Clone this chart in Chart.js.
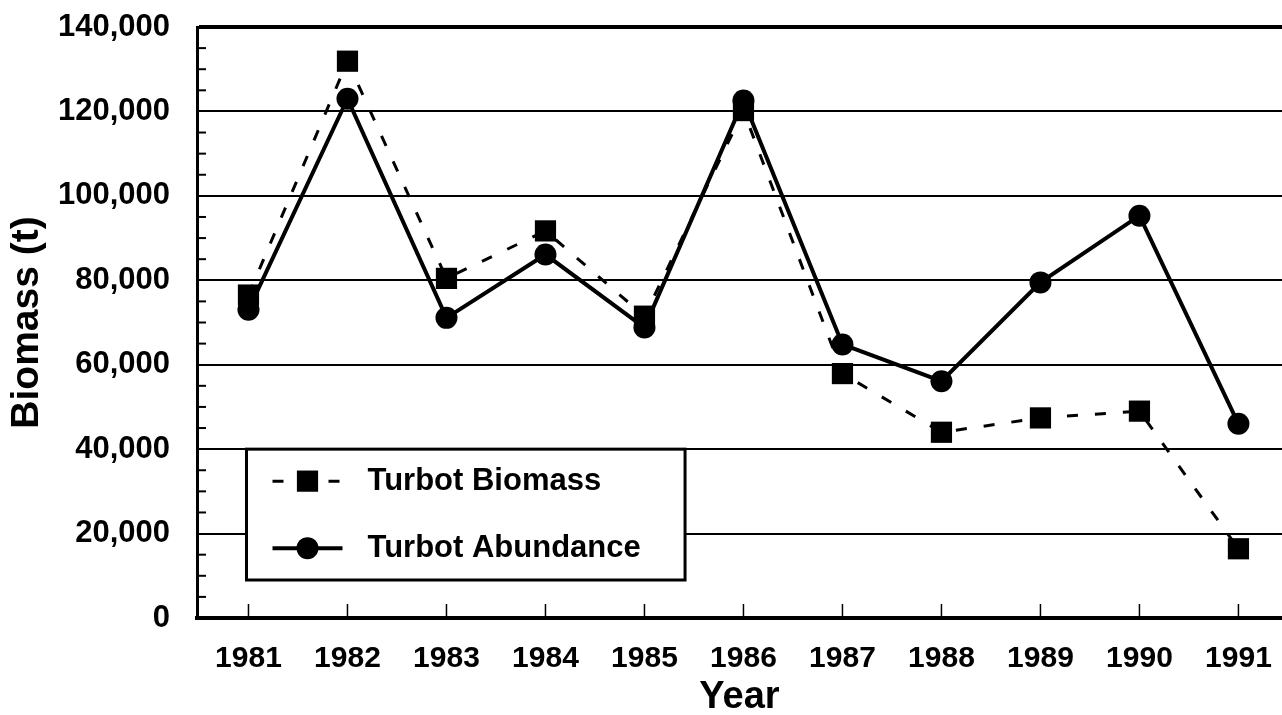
<!DOCTYPE html>
<html>
<head>
<meta charset="utf-8">
<script src="https://cdn.jsdelivr.net/npm/chart.js@4/dist/chart.umd.min.js"></script>
<style>
html,body{margin:0;padding:0;background:#fff;overflow:hidden}
canvas{display:block}
</style>
</head>
<body>
<canvas id="c" width="1282" height="715"></canvas>
<script>
const years = [1981, 1982, 1983, 1984, 1985, 1986, 1987, 1988, 1989, 1990, 1991];
const biomass = [76500, 131900, 80450, 91700, 71500, 120200, 57900, 44000, 47400, 49000, 16400];
const abundance = [73000, 123000, 71100, 86100, 68800, 122600, 64800, 56100, 79500, 95300, 46000];
const yTickValues = [0, 20000, 40000, 60000, 80000, 100000, 120000, 140000];
const yMinorStep = 5000;
const seriesLabels = ['Turbot Biomass', 'Turbot Abundance'];
const FONT = '"Liberation Sans", Arial, Helvetica, sans-serif';

const minorTicks = {
  id: 'minorTicks',
  afterDraw(chart) {
    const {ctx, chartArea, scales: {x, y}} = chart;
    ctx.save();
    ctx.strokeStyle = '#000';
    ctx.lineWidth = 2;
    for (let v = yMinorStep; v < y.max; v += yMinorStep) {
      if (yTickValues.includes(v)) continue;
      const py = y.getPixelForValue(v);
      ctx.beginPath();
      ctx.moveTo(chartArea.left, py);
      ctx.lineTo(chartArea.left + 9, py);
      ctx.stroke();
    }
    ctx.lineWidth = 1.5;
    years.forEach(yr => {
      const px = x.getPixelForValue(yr);
      ctx.beginPath();
      ctx.moveTo(px, chartArea.bottom);
      ctx.lineTo(px, chartArea.bottom - 14);
      ctx.stroke();
    });
    ctx.restore();
  }
};

const boxLegend = {
  id: 'boxLegend',
  afterDraw(chart, args, opts) {
    const {ctx, scales: {x, y}} = chart;
    const L = x.getPixelForValue(opts.x0), R = x.getPixelForValue(opts.x1);
    const T = y.getPixelForValue(opts.y0), B = y.getPixelForValue(opts.y1);
    ctx.save();
    ctx.fillStyle = '#fff';
    ctx.fillRect(L, T, R - L, B - T);
    ctx.lineWidth = 3;
    ctx.strokeStyle = '#000';
    ctx.strokeRect(L, T, R - L, B - T);
    const rows = [T + 32, T + 99];
    chart.data.datasets.forEach((ds, i) => {
      const cy = rows[i];
      ctx.strokeStyle = '#000';
      ctx.fillStyle = '#000';
      ctx.lineWidth = ds.borderWidth;
      ctx.setLineDash(ds.borderDash || []);
      ctx.beginPath();
      ctx.moveTo(L + 26, cy);
      ctx.lineTo(L + 96, cy);
      ctx.stroke();
      ctx.setLineDash([]);
      const cx = L + 61;
      const r = ds.pointRadius;
      ctx.beginPath();
      if (ds.pointStyle === 'rect') {
        const s = r * Math.SQRT1_2;
        ctx.rect(cx - s, cy - s, 2 * s, 2 * s);
      } else {
        ctx.arc(cx, cy, r, 0, Math.PI * 2);
      }
      ctx.fill();
      ctx.font = 'bold 31px ' + FONT;
      ctx.textBaseline = 'middle';
      ctx.textAlign = 'left';
      ctx.fillText(ds.label, L + 121, cy);
    });
    ctx.restore();
  }
};

function noPad(s) {
  s.paddingLeft = 0; s.paddingRight = 0; s.paddingTop = 0; s.paddingBottom = 0;
}

new Chart(document.getElementById('c'), {
  type: 'line',
  data: {
    datasets: [
      {
        label: seriesLabels[0],
        data: years.map((yr, i) => ({x: yr, y: biomass[i]})),
        borderColor: '#000',
        backgroundColor: '#000',
        pointBackgroundColor: '#000',
        pointBorderColor: '#000',
        borderWidth: 3,
        borderDash: [11, 17],
        pointStyle: 'rect',
        pointRadius: 15,
        pointBorderWidth: 0,
        tension: 0,
        order: 2
      },
      {
        label: seriesLabels[1],
        data: years.map((yr, i) => ({x: yr, y: abundance[i]})),
        borderColor: '#000',
        backgroundColor: '#000',
        pointBackgroundColor: '#000',
        pointBorderColor: '#000',
        borderWidth: 4,
        pointStyle: 'circle',
        pointRadius: 11,
        pointBorderWidth: 0,
        tension: 0,
        order: 1
      }
    ]
  },
  options: {
    responsive: false,
    animation: false,
    devicePixelRatio: 1,
    layout: {autoPadding: false, padding: {top: 27, right: 0, left: 0, bottom: 0}},
    plugins: {
      legend: {display: false},
      tooltip: {enabled: false},
      boxLegend: {x0: 1980.98, x1: 1985.41, y0: 40000, y1: 9000}
    },
    scales: {
      x: {
        type: 'linear',
        min: 1980.48,
        max: 1991.44,
        afterBuildTicks: s => { s.ticks = years.map(v => ({value: v})); },
        afterFit: s => { s.height = 97; noPad(s); },
        grid: {display: false, drawTicks: false},
        border: {display: true, color: '#000', width: 4},
        ticks: {
          padding: 23, color: '#000', autoSkip: false, maxRotation: 0,
          font: {family: FONT, size: 30, weight: 'bold'},
          callback: v => String(v)
        },
        title: {
          display: true, text: 'Year', color: '#000',
          font: {family: FONT, size: 38, weight: 'bold', lineHeight: 0.9},
          padding: {top: 0, bottom: 0}
        }
      },
      y: {
        type: 'linear',
        min: 0,
        max: 140000,
        afterBuildTicks: s => { s.ticks = yTickValues.map(v => ({value: v})); },
        afterFit: s => { s.width = 197; noPad(s); },
        grid: {
          color: '#000',
          lineWidth: c => (c.tick && c.tick.value === 140000 ? 4 : 2),
          drawTicks: false
        },
        border: {display: true, color: '#000', width: 3},
        ticks: {
          padding: 27, color: '#000',
          font: {family: FONT, size: 31, weight: 'bold'},
          callback: v => Number(v).toLocaleString('en-US')
        },
        title: {
          display: true, text: 'Biomass (t)', color: '#000',
          font: {family: FONT, size: 39, weight: 'bold'},
          padding: {top: 4, bottom: 0}
        }
      }
    }
  },
  plugins: [minorTicks, boxLegend]
});
</script>
</body>
</html>
